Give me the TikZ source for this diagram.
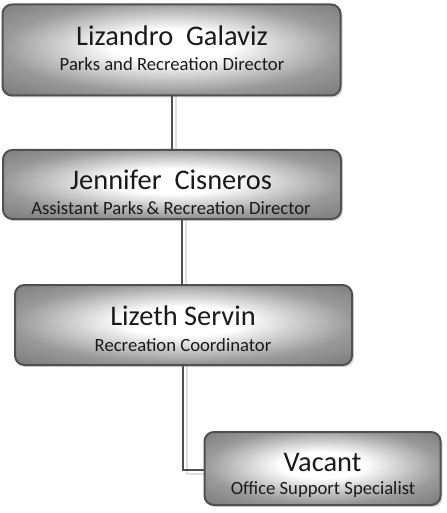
\documentclass[tikz,border=0pt]{standalone}
\usepackage{fontspec}
\setmainfont{Carlito}
\usetikzlibrary{shadows}
\pgfdeclareradialshading{boxshade}{\pgfpoint{0bp}{3bp}}{%
  color(0bp)=(white);
  color(9bp)=(white);
  color(25bp)=(black!40);
  color(36bp)=(black!52);
  color(50bp)=(black!58)}
\definecolor{edge}{HTML}{505050}
\definecolor{txt}{HTML}{1A1A1A}
\tikzset{
  person/.style={rectangle, rounded corners=7pt, draw=edge, line width=1.5pt,
    shading=boxshade, align=center, inner sep=0pt, text=txt,
    drop shadow={shadow xshift=1.5pt, shadow yshift=-1.5pt, fill=black!35, opacity=0.45}},
  namef/.style={font=\fontsize{21.3}{23}\selectfont},
  rolef/.style={font=\fontsize{14}{16}\selectfont},
  link/.style={draw=edge, line width=1.5pt},
  linkshadow/.style={draw=black!12, line width=2pt}
}
\begin{document}
\begin{tikzpicture}[x=0.75pt, y=-0.75pt]
\useasboundingbox (0,0) rectangle (446,513);
% connectors (behind)
\coordinate (c1a) at (172,96);
\coordinate (c1b) at (172,150);
\coordinate (c2a) at (182,219);
\coordinate (c2b) at (182,285);
\coordinate (c3a) at (183,365);
\coordinate (c3b) at (183,470);
\coordinate (c3c) at (205,470);
\draw[linkshadow] ([xshift=3]c1a) -- ([xshift=3]c1b);
\draw[linkshadow] ([xshift=3]c2a) -- ([xshift=3]c2b);
\draw[linkshadow] ([xshift=3]c3a) -- ([xshift=3,yshift=-3]c3b) -- ([yshift=-3]c3c);
\node[person, minimum width=338*0.75pt, minimum height=91*0.75pt] (n1) at (171.5,50) {};
\node[person, minimum width=338*0.75pt, minimum height=69*0.75pt] (n2) at (172,184.5) {};
\node[person, minimum width=337*0.75pt, minimum height=80*0.75pt] (n3) at (183.5,325) {};
\node[person, minimum width=236*0.75pt, minimum height=73*0.75pt] (n4) at (322.5,468.5) {};
\draw[link] (n1.south) -- (n2.north -| n1.south);
\draw[link] (n2.south -| c2a) -- (n3.north -| c2a);
\draw[link] (n3.south -| c3a) -- (c3b) -- (n4.west |- c3b);
% texts
\node[namef, text=txt] (t1) at (172,36) {Lizandro\ \ Galaviz};
\node[rolef, text=txt] (s1) at (172,64) {Parks and Recreation Director};
\node[namef, text=txt] (t2) at (171,180) {Jennifer\ \ Cisneros};
\node[rolef, text=txt] (s2) at (171,208) {Assistant Parks\,\&\ Recreation Director};
\node[namef, text=txt] (t3) at (183,316) {Lizeth Servin};
\node[rolef, text=txt] (s3) at (183,345) {Recreation Coordinator};
\node[namef, text=txt] (t4) at (322.5,462) {Vacant};
\node[rolef, text=txt] (s4) at (323,490) {Office Support Specialist};
\end{tikzpicture}
\end{document}
